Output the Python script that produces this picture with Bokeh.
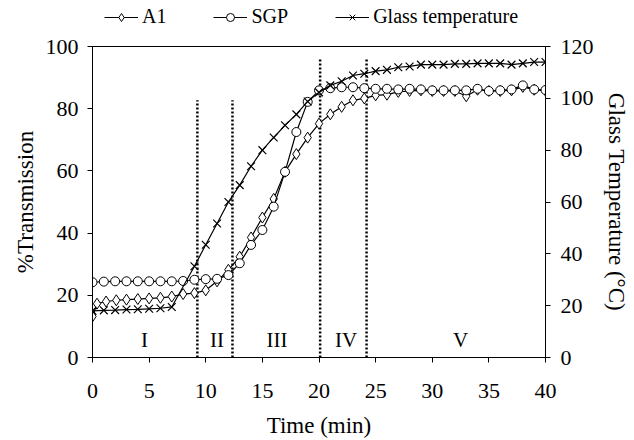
from bokeh.plotting import figure
from bokeh.layouts import column
from bokeh.models import Range1d, LinearAxis, Legend, LegendItem, FixedTicker
from bokeh.embed import file_html
from bokeh.resources import INLINE
from bokeh.core.properties import value

# ---- data ----
a1_time = [0, 0.4, 1.2, 2.1, 3, 4, 5, 6, 7, 8, 9, 10, 11, 12, 13, 14, 15, 16, 17, 18, 19, 20,
           21, 22, 23, 24, 25, 26, 27, 28, 29, 30, 31, 32, 33, 34, 35, 36, 37, 38, 39, 40]
a1_trans = [13.2, 17.3, 18.0, 18.4, 18.6, 18.8, 19.0, 19.2, 19.6, 20.4, 20.7, 21.6, 24.5, 28.2,
            32.4, 38.6, 45.0, 51.0, 59.7, 65.4, 70.7, 75.2, 78.2, 80.6, 82.7, 83.3, 84.3, 84.5,
            85.4, 85.7, 85.9, 85.7, 85.7, 85.7, 84.0, 86.1, 85.7, 85.7, 85.9, 87.0, 86.1, 85.8]

sgp_time = list(range(0, 41))
sgp_trans = [24.2, 24.4, 24.5, 24.5, 24.5, 24.5, 24.5, 24.5, 24.6, 25.0, 25.2, 25.3, 26.5, 30.3,
             36.2, 41.0, 48.5, 59.7, 72.5, 82.2, 85.9, 86.6, 86.9, 86.9, 86.6, 86.4, 86.4, 86.2,
             86.4, 86.2, 85.9, 85.9, 85.9, 85.9, 86.4, 85.7, 85.9, 86.2, 87.5, 86.2, 86.0]

glass_time = [0, 1, 2, 3, 4, 5, 6, 7, 9, 10, 11, 12, 13, 14, 15, 16, 17, 18, 19, 20,
              21, 22, 23, 24, 25, 26, 27, 28, 29, 30, 31, 32, 33, 34, 35, 36, 37, 38, 39, 40]
glass_temp = [18.0, 18.2, 18.3, 18.5, 18.6, 18.8, 19.0, 19.5, 35.2, 43.5, 51.7, 60.0, 66.5, 73.8,
              80.0, 84.9, 89.6, 93.8, 98.8, 102.3, 105.0, 106.6, 108.8, 109.5, 110.5, 111.0,
              112.0, 112.3, 113.0, 113.0, 113.0, 113.3, 113.3, 113.5, 113.5, 113.5, 113.0,
              113.5, 114.0, 114.0]

boundary_time = [9.26, 12.36, 20.1, 24.2]
boundary_top = [82.7, 82.7, 96.4, 96.4]

region_labels = ["I", "II", "III", "IV", "V"]
region_time = [4.6, 11.0, 16.3, 22.4, 32.5]
region_y = [5.6, 5.6, 5.6, 5.6, 5.6]

series_names = ["A1", "SGP", "Glass temperature"]

x_ticks = [0, 5, 10, 15, 20, 25, 30, 35, 40]
left_ticks = [0, 20, 40, 60, 80, 100]
right_ticks = [0, 20, 40, 60, 80, 100, 120]

FONT = "Liberation Serif"

# ---- main chart ----
p = figure(width=634, height=410, output_backend="svg", toolbar_location=None,
           x_range=Range1d(0, 40), y_range=Range1d(0, 100),
           min_border_left=92, min_border_right=89, min_border_top=16, min_border_bottom=82)
p.extra_y_ranges = {"temp": Range1d(0, 120)}
p.xgrid.visible = False
p.ygrid.visible = False
p.outline_line_color = "black"
p.outline_line_width = 1
p.background_fill_color = "white"
p.border_fill_color = "white"

def style_axis(ax, ticks):
    ax.ticker = FixedTicker(ticks=ticks)
    ax.minor_tick_line_color = None
    ax.major_tick_in = 0
    ax.major_tick_out = 5
    ax.axis_line_color = "black"
    ax.major_tick_line_color = "black"
    ax.major_label_text_font = FONT
    ax.major_label_text_font_size = "22px"
    ax.major_label_text_color = "black"
    ax.axis_label_text_font = FONT
    ax.axis_label_text_font_size = "23px"
    ax.axis_label_text_font_style = "normal"
    ax.axis_label_text_color = "black"

xa = p.xaxis[0]
style_axis(xa, x_ticks)
xa.axis_label = "Time (min)"
xa.major_label_standoff = 21
xa.axis_label_standoff = 12

ya = p.yaxis[0]
style_axis(ya, left_ticks)
ya.axis_label = "%Transmission"
ya.major_label_standoff = 9
ya.axis_label_standoff = 5

ra = LinearAxis(y_range_name="temp", axis_label="Glass Temperature (°C)")
style_axis(ra, right_ticks)
ra.major_label_standoff = 10
ra.axis_label_standoff = 7
p.add_layout(ra, "right")

# boundaries between stages
p.segment(x0=boundary_time, y0=[0] * 4, x1=boundary_time, y1=boundary_top,
          line_color="black", line_width=2.5, line_dash="2 2")

# stage labels
p.text(x=region_time, y=region_y, text=region_labels, text_font=value(FONT),
       text_font_size="21px", text_align="center", text_baseline="middle", text_color="black")

# series
p.line(a1_time, a1_trans, line_color="black", line_width=1.2)
p.scatter(a1_time, a1_trans, marker="diamond", size=11, line_color="black",
          fill_color="white", line_width=1)
p.line(sgp_time, sgp_trans, line_color="black", line_width=1.2)
p.scatter(sgp_time, sgp_trans, marker="circle", size=9, line_color="black",
          fill_color="white", line_width=1)
p.line(glass_time, glass_temp, line_color="black", line_width=1.2, y_range_name="temp")
p.scatter(glass_time, glass_temp, marker="x", size=11, line_color="black",
          line_width=1.2, y_range_name="temp")

# ---- legend strip above the chart (series drawn out of its visible range) ----
lg = figure(width=634, height=30, output_backend="svg", toolbar_location=None,
            x_range=Range1d(0, 1), y_range=Range1d(0, 1),
            min_border_left=0, min_border_right=0, min_border_top=0, min_border_bottom=0)
lg.axis.visible = False
lg.xgrid.visible = False
lg.ygrid.visible = False
lg.outline_line_color = None
lg.border_fill_color = "white"
lg.background_fill_color = "white"

series = [(a1_time, a1_trans, "diamond"), (sgp_time, sgp_trans, "circle"),
          (glass_time, glass_temp, "x")]
items = []
for name, (xs, ys, mk) in zip(series_names, series):
    rl = lg.line(xs, ys, line_color="black", line_width=1.2)
    rm = lg.scatter(xs, ys, marker=mk, size=8, line_color="black", fill_color="white",
                    line_width=1)
    items.append(LegendItem(label=name, renderers=[rl, rm]))

legend = Legend(items=items, orientation="horizontal", location=(12, 2))
legend.background_fill_alpha = 0
legend.border_line_color = None
legend.padding = 0
legend.margin = 0
legend.spacing = 47
legend.glyph_width = 34
legend.label_standoff = 4
legend.label_text_font = FONT
legend.label_text_font_size = "20px"
legend.label_text_color = "black"
lg.add_layout(legend, "center")

layout = column(lg, p, spacing=0)
open("out.html", "w").write(file_html(layout, INLINE))
